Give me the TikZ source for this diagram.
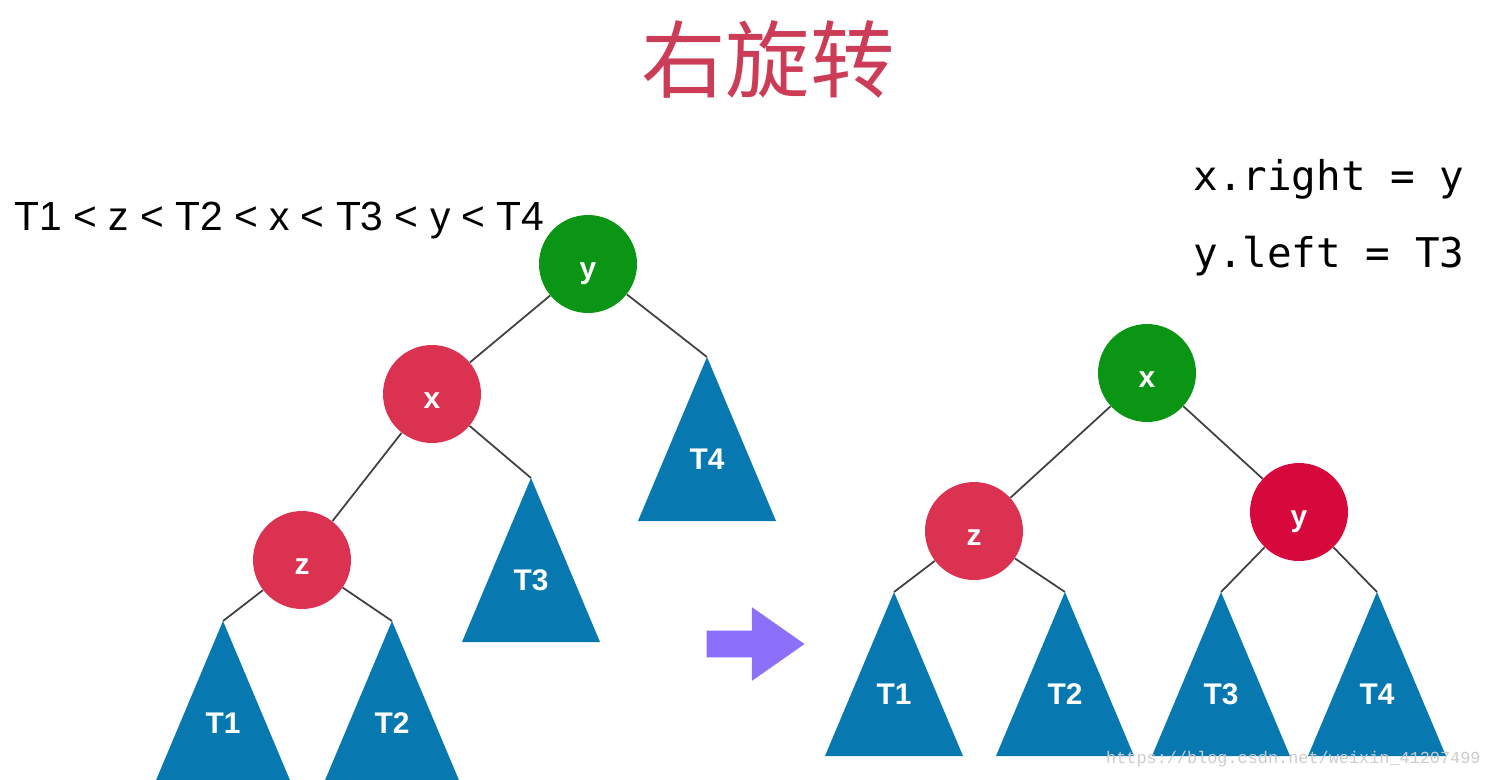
\documentclass[tikz,border=0pt]{standalone}
\usepackage{fontspec}
\setmainfont{Liberation Sans}
\setmonofont{DejaVu Sans Mono}
\newfontfamily\cjkfont{Noto Sans CJK SC}
\newfontfamily\wmfont{Liberation Mono}
\usetikzlibrary{shapes.arrows, positioning, calc}

\definecolor{nodegreen}{RGB}{10,150,20}
\definecolor{nodered}{RGB}{220,50,82}
\definecolor{nodecrimson}{RGB}{215,8,60}
\definecolor{treeblue}{RGB}{8,120,176}
\definecolor{titlered}{RGB}{204,60,86}
\definecolor{arrowpurple}{RGB}{140,112,250}

\tikzset{
  rbnode/.style={circle, minimum size=1.96cm, inner sep=0pt, text height=16pt, text depth=0pt, text=white, font=\fontsize{17}{17}\selectfont\bfseries},
  treelabel/.style={text=white, font=\fontsize{17}{17}\selectfont\bfseries},
  treeedge/.style={draw=black!75, line width=1pt},
}

% subtree: name, apex, label
\newcommand{\subtree}[3]{%
  \coordinate (#1) at (#2);
  \fill[treeblue] (#1) -- ++(-69,164) -- ++(138,0) -- cycle;
  \node[treelabel] (#1l) at ($(#1)+(0,102)$) {#3};
}

\begin{document}
\begin{tikzpicture}[x=0.02cm, y=-0.02cm]
  \useasboundingbox (0,0) rectangle (1492,779);
  \clip (0,0) rectangle (1492,779);

  \node[text=titlered, font=\cjkfont\fontsize{48}{48}\selectfont, anchor=base, inner sep=0pt] (title) at (768,91) {右旋转};
  \node[font=\fontsize{23.2}{23.2}\selectfont, anchor=base west, inner sep=0pt] (order) at (14,230) {T1 < z < T2 < x < T3 < y < T4};
  \node[font=\ttfamily\fontsize{23.3}{23.3}\selectfont, anchor=base west, inner sep=0pt] (code1) at (1193,190) {x.right = y};
  \node[font=\ttfamily\fontsize{23.3}{23.3}\selectfont, anchor=base west, inner sep=0pt] (code2) at (1193,267) {y.left = T3};

  % before
  \node[rbnode, fill=nodegreen] (ly) at (588,264) {y};
  \node[rbnode, fill=nodered] (lx) at (432,394) {x};
  \node[rbnode, fill=nodered] (lz) at (302,560) {z};
  \subtree{lt1}{223,621}{T1}
  \subtree{lt2}{392,621}{T2}
  \subtree{lt3}{531,478}{T3}
  \subtree{lt4}{707,357}{T4}
  \draw[treeedge] (ly) -- (lx);
  \draw[treeedge] (ly) -- (lt4);
  \draw[treeedge] (lx) -- (lz);
  \draw[treeedge] (lx) -- (lt3);
  \draw[treeedge] (lz) -- (lt1);
  \draw[treeedge] (lz) -- (lt2);

  \node[single arrow, fill=arrowpurple, minimum height=1.96cm, inner xsep=0pt, inner ysep=0.26cm,
        single arrow head extend=0.47cm, single arrow tip angle=70] (turn) at (746,644) {};

  % after
  \node[rbnode, fill=nodegreen] (rx) at (1147,373) {x};
  \node[rbnode, fill=nodered] (rz) at (974,531) {z};
  \node[rbnode, fill=nodecrimson] (ry) at (1299,512) {y};
  \subtree{rt1}{894,592}{T1}
  \subtree{rt2}{1065,592}{T2}
  \subtree{rt3}{1221,592}{T3}
  \subtree{rt4}{1377,592}{T4}
  \draw[treeedge] (rx) -- (rz);
  \draw[treeedge] (rx) -- (ry);
  \draw[treeedge] (rz) -- (rt1);
  \draw[treeedge] (rz) -- (rt2);
  \draw[treeedge] (ry) -- (rt3);
  \draw[treeedge] (ry) -- (rt4);

  \node[text=black!20, font=\wmfont\fontsize{9.6}{9.6}\selectfont, anchor=base east, inner sep=0pt] (mark) at (1481,763) {https://blog.csdn.net/weixin\_41207499};
\end{tikzpicture}
\end{document}
